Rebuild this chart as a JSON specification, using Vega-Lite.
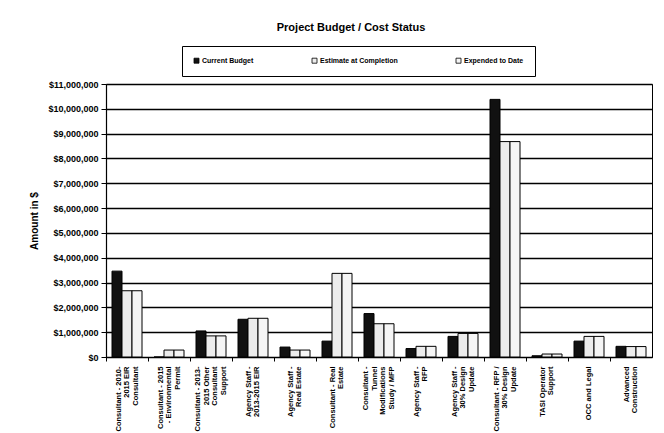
{
  "$schema": "https://vega.github.io/schema/vega-lite/v6.json",
  "width": 546,
  "height": 273,
  "autosize": {"type": "none"},
  "padding": {"left": 106, "top": 84, "right": 12, "bottom": 76},
  "background": "white",
  "title": {"text": "Project Budget / Cost Status", "fontSize": 11, "font": "Liberation Sans", "fontWeight": "bold", "anchor": "middle", "offset": 13, "dx": -28, "color": "#000"},
  "data": {"values": [
    {"cat": "Consultant - 2010-|2015 EIR|Consultant", "series": "Current Budget", "amount": 3460000},
    {"cat": "Consultant - 2010-|2015 EIR|Consultant", "series": "Estimate at Completion", "amount": 2670000},
    {"cat": "Consultant - 2010-|2015 EIR|Consultant", "series": "Expended to Date", "amount": 2670000},
    {"cat": "Consultant - 2015|- Environmental|Permit", "series": "Current Budget", "amount": 0},
    {"cat": "Consultant - 2015|- Environmental|Permit", "series": "Estimate at Completion", "amount": 280000},
    {"cat": "Consultant - 2015|- Environmental|Permit", "series": "Expended to Date", "amount": 280000},
    {"cat": "Consultant - 2013-|2015 Other|Consultant|Support", "series": "Current Budget", "amount": 1050000},
    {"cat": "Consultant - 2013-|2015 Other|Consultant|Support", "series": "Estimate at Completion", "amount": 850000},
    {"cat": "Consultant - 2013-|2015 Other|Consultant|Support", "series": "Expended to Date", "amount": 850000},
    {"cat": "Agency Staff -|2013-2015 EIR", "series": "Current Budget", "amount": 1520000},
    {"cat": "Agency Staff -|2013-2015 EIR", "series": "Estimate at Completion", "amount": 1560000},
    {"cat": "Agency Staff -|2013-2015 EIR", "series": "Expended to Date", "amount": 1560000},
    {"cat": "Agency Staff -|Real Estate", "series": "Current Budget", "amount": 400000},
    {"cat": "Agency Staff -|Real Estate", "series": "Estimate at Completion", "amount": 280000},
    {"cat": "Agency Staff -|Real Estate", "series": "Expended to Date", "amount": 280000},
    {"cat": "Consultant - Real|Estate", "series": "Current Budget", "amount": 640000},
    {"cat": "Consultant - Real|Estate", "series": "Estimate at Completion", "amount": 3370000},
    {"cat": "Consultant - Real|Estate", "series": "Expended to Date", "amount": 3370000},
    {"cat": "Consultant -|Tunnel|Modifications|Study / MFP", "series": "Current Budget", "amount": 1750000},
    {"cat": "Consultant -|Tunnel|Modifications|Study / MFP", "series": "Estimate at Completion", "amount": 1340000},
    {"cat": "Consultant -|Tunnel|Modifications|Study / MFP", "series": "Expended to Date", "amount": 1340000},
    {"cat": "Agency Staff -|RFP", "series": "Current Budget", "amount": 340000},
    {"cat": "Agency Staff -|RFP", "series": "Estimate at Completion", "amount": 430000},
    {"cat": "Agency Staff -|RFP", "series": "Expended to Date", "amount": 430000},
    {"cat": "Agency Staff -|30% Design|Update", "series": "Current Budget", "amount": 830000},
    {"cat": "Agency Staff -|30% Design|Update", "series": "Estimate at Completion", "amount": 950000},
    {"cat": "Agency Staff -|30% Design|Update", "series": "Expended to Date", "amount": 950000},
    {"cat": "Consultant - RFP /|30% Design|Update", "series": "Current Budget", "amount": 10380000},
    {"cat": "Consultant - RFP /|30% Design|Update", "series": "Estimate at Completion", "amount": 8680000},
    {"cat": "Consultant - RFP /|30% Design|Update", "series": "Expended to Date", "amount": 8680000},
    {"cat": "TASI Operator|Support", "series": "Current Budget", "amount": 50000},
    {"cat": "TASI Operator|Support", "series": "Estimate at Completion", "amount": 120000},
    {"cat": "TASI Operator|Support", "series": "Expended to Date", "amount": 120000},
    {"cat": "OCC and Legal", "series": "Current Budget", "amount": 640000},
    {"cat": "OCC and Legal", "series": "Estimate at Completion", "amount": 830000},
    {"cat": "OCC and Legal", "series": "Expended to Date", "amount": 830000},
    {"cat": "Advanced|Construction", "series": "Current Budget", "amount": 430000},
    {"cat": "Advanced|Construction", "series": "Estimate at Completion", "amount": 420000},
    {"cat": "Advanced|Construction", "series": "Expended to Date", "amount": 420000}
  ]},
  "mark": {"type": "bar", "stroke": "#000", "strokeWidth": 1},
  "encoding": {
    "x": {
      "field": "cat", "type": "nominal", "sort": null,
      "scale": {"paddingInner": 0, "paddingOuter": 0},
      "axis": {
        "title": null, "bandPosition": 0, "labelAngle": -90,
        "labelExpr": "split(datum.label, '|')",
        "labelOffset": {"condition": [
          {"test": "length(split(datum.label, '|')) == 2", "value": -4.25},
          {"test": "length(split(datum.label, '|')) == 3", "value": -8.5},
          {"test": "length(split(datum.label, '|')) == 4", "value": -12.75}
        ], "value": 0},
        "labelFont": "Liberation Sans", "labelFontSize": 7.5, "labelFontWeight": "bold", "labelColor": "#000",
        "labelLineHeight": 8.5, "labelPadding": 5, "labelBound": false, "labelOverlap": false,
        "tickColor": "#000", "tickSize": 4, "domainColor": "#000", "domainWidth": 1.2
      }
    },
    "xOffset": {
      "field": "series", "type": "nominal",
      "sort": ["Current Budget", "Estimate at Completion", "Expended to Date"],
      "scale": {"paddingOuter": 0.6, "paddingInner": 0}
    },
    "y": {
      "field": "amount", "type": "quantitative",
      "scale": {"domain": [0, 11000000], "nice": false},
      "axis": {
        "title": "Amount in $", "format": "$,.0f",
        "values": [0, 1000000, 2000000, 3000000, 4000000, 5000000, 6000000, 7000000, 8000000, 9000000, 10000000, 11000000],
        "grid": true, "gridColor": "#000", "gridWidth": 1.3, "gridOpacity": 1,
        "domainColor": "#000", "domainWidth": 1.2, "tickColor": "#000", "tickSize": 5,
        "labelFont": "Liberation Sans", "labelFontSize": 9, "labelFontWeight": "bold", "labelColor": "#000", "labelPadding": 3,
        "titleFont": "Liberation Sans", "titleFontSize": 10, "titleFontWeight": "bold", "titleColor": "#000", "titlePadding": 8
      }
    },
    "color": {
      "field": "series", "type": "nominal",
      "sort": ["Current Budget", "Estimate at Completion", "Expended to Date"],
      "scale": {"domain": ["Current Budget", "Estimate at Completion", "Expended to Date"], "range": ["#111111", "#ececec", "#f5f5f5"]},
      "legend": {
        "title": null, "orient": "none", "legendX": 76, "legendY": -38,
        "direction": "horizontal", "columns": 3, "gridAlign": "each",
        "strokeColor": "#000", "padding": 11, "columnPadding": 56,
        "symbolType": "square", "symbolSize": 25, "symbolStrokeColor": "#000", "symbolStrokeWidth": 0.8,
        "labelFont": "Liberation Sans", "labelFontSize": 7, "labelFontWeight": "bold", "labelColor": "#000", "labelOffset": 2
      }
    }
  },
  "config": {"view": {"stroke": "#000", "strokeWidth": 1}}
}
